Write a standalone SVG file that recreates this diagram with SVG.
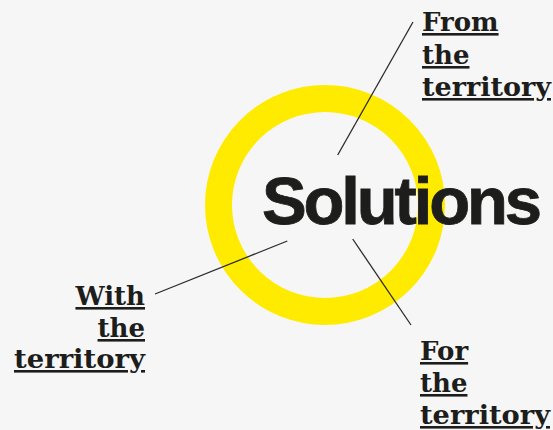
<svg xmlns="http://www.w3.org/2000/svg" width="553" height="430" viewBox="0 0 553 430">
<style>
.lbl{font-family:"DejaVu Serif","Liberation Serif",serif;font-weight:bold;font-size:26px;fill:#1d1d1b;text-decoration:underline}
.con{stroke:#2b2b2b;stroke-width:1.3;fill:none}
</style>
<rect width="553" height="430" fill="#f6f6f6"/>
<g id="ring">
<circle cx="325" cy="205" r="106.5" fill="none" stroke="#ffeb00" stroke-width="27"/>
</g>
<g id="connectors">
<line class="con" x1="337.7" y1="155" x2="413" y2="22"/>
<line class="con" x1="287.3" y1="241" x2="155" y2="294"/>
<line class="con" x1="352.7" y1="239" x2="411" y2="325"/>
</g>
<g id="center">
<text x="262" y="224" font-family="Liberation Sans, Arial, sans-serif" font-weight="bold" font-size="67" fill="#1d1d1b" stroke="#1d1d1b" stroke-width="0.8" textLength="280" lengthAdjust="spacing">Solutions</text>
</g>
<g id="from">
<text class="lbl" x="422" y="31">From</text>
<text class="lbl" x="422" y="64">the</text>
<text class="lbl" x="422" y="96" textLength="129" lengthAdjust="spacingAndGlyphs">territory</text>
</g>
<g id="with">
<text class="lbl" x="145" y="305" text-anchor="end">With</text>
<text class="lbl" x="145" y="337" text-anchor="end">the</text>
<text class="lbl" x="145" y="368" text-anchor="end" textLength="131" lengthAdjust="spacingAndGlyphs">territory</text>
</g>
<g id="for">
<text class="lbl" x="420" y="360">For</text>
<text class="lbl" x="420" y="392">the</text>
<text class="lbl" x="420" y="424" textLength="130" lengthAdjust="spacingAndGlyphs">territory</text>
</g>
</svg>
